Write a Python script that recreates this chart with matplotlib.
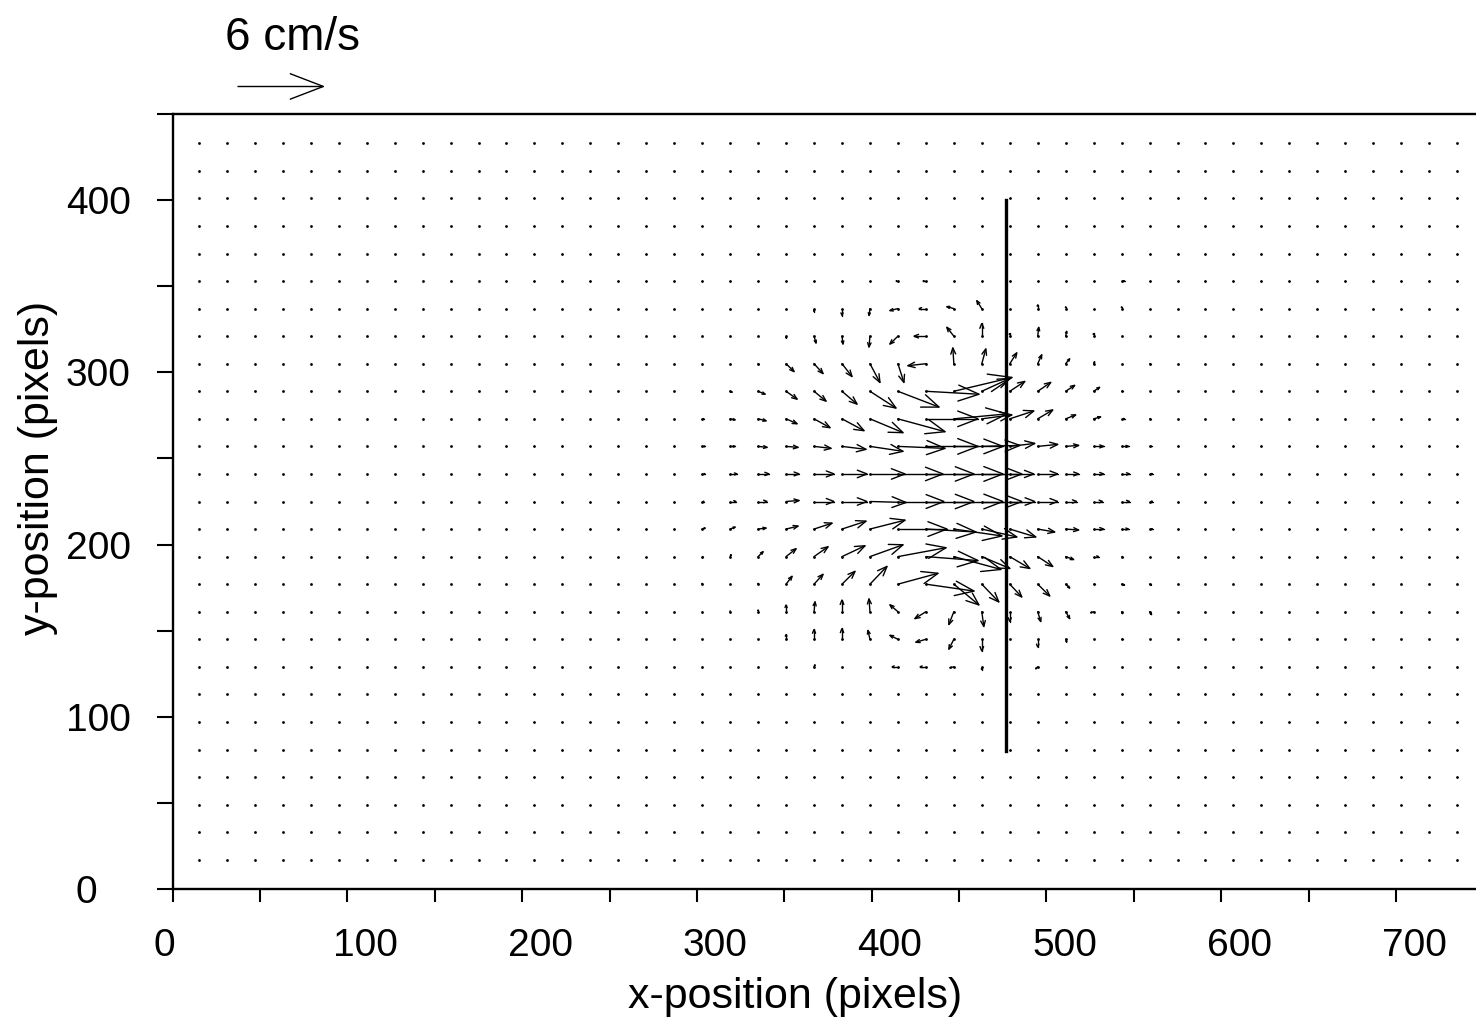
import numpy as np
import matplotlib
matplotlib.use("Agg")
import matplotlib.pyplot as plt
from matplotlib.collections import LineCollection
from matplotlib.transforms import ScaledTranslation

plt.rcParams['font.family'] = ['Liberation Sans', 'DejaVu Sans']

# ---------------- data ----------------
# PIV grid positions (pixels)
x_grid = np.arange(15, 736, 16)      # 46 columns
y_grid = np.arange(17, 434, 16)      # 27 rows

# velocity (cm/s) in the active block: rows j=7..21, columns k=18..34
ROW0, COL0 = 7, 18
u_block = [
    [0, 0, 0, 0, 0.07, 0, 0, -0.42, -0.42, -0.28, 0, 0, -0.14, 0, 0, 0, 0],
    [0, 0, 0, 0, 0, 0, -0.14, -0.56, -0.70, -0.35, 0, 0, 0, 0.07, 0, 0.07, 0],
    [0, 0, 0, 0, 0.07, 0, -0.07, -0.56, -0.77, -0.35, 0.14, 0, 0.21, 0.28, -0.21, 0.07, 0.14],
    [0, 0, 0, 0.42, 0.63, 0.91, 1.19, 2.80, 3.36, 1.75, 1.19, 0.84, 0.84, 0.28, 0.07, 0.21, 0.14],
    [0.07, 0.07, 0.35, 0.70, 0.98, 1.61, 2.31, 3.36, 3.64, 3.29, 1.96, 1.40, 1.05, 0.56, 0.35, 0.07, 0],
    [0.21, 0.35, 0.56, 0.84, 1.26, 1.68, 2.45, 3.43, 3.50, 3.36, 2.45, 1.82, 1.19, 0.91, 0.70, 0.49, 0.21],
    [0.14, 0.42, 0.63, 0.91, 1.40, 1.75, 2.52, 3.22, 3.36, 3.43, 2.80, 1.75, 1.40, 0.77, 0.63, 0.56, 0.21],
    [0.21, 0.49, 0.77, 0.91, 1.40, 1.75, 2.45, 3.15, 3.36, 3.43, 2.80, 1.68, 1.40, 0.91, 0.70, 0.56, 0.21],
    [0.21, 0.35, 0.63, 0.84, 1.19, 1.68, 2.31, 3.29, 3.64, 3.43, 2.66, 1.75, 1.40, 0.91, 0.70, 0.49, 0.14],
    [0.14, 0.35, 0.56, 0.77, 1.12, 1.54, 2.31, 3.29, 3.64, 3.71, 2.10, 1.68, 1.05, 0.70, 0.49, 0.21, 0.07],
    [0.07, 0.14, 0.49, 0.77, 0.84, 1.05, 1.82, 2.87, 3.71, 4.06, 1.96, 1.05, 0.91, 0.63, 0.42, 0.07, 0],
    [0, 0, 0.07, 0.56, 0.63, 0.70, 0.70, 0.42, -1.26, -0.07, 0.28, 0.49, 0.28, 0.28, 0.07, 0, 0.07],
    [0, 0, 0, 0, 0.14, 0.07, -0.07, -0.56, -0.84, -0.49, 0, 0, 0.07, 0.07, 0, 0, 0],
    [0, 0, 0, 0, 0, 0, -0.07, -0.56, -0.49, -0.49, -0.35, 0, 0, 0, 0, 0, 0],
    [0, 0, 0, 0, 0, 0, 0, -0.14, -0.21, 0, 0, 0, 0, 0, 0, 0.21, 0],
]
v_block = [
    [0, 0, 0, 0, 0.14, 0, 0, 0, 0, -0.07, -0.21, 0, -0.14, 0, 0, 0, 0],
    [0, 0, 0, 0.35, 0.70, 0.77, 0.63, 0.28, -0.21, -0.70, -0.84, 0, -0.56, -0.21, 0, 0, 0],
    [0, 0.07, 0.14, 0.49, 0.70, 0.84, 0.91, 0.49, -0.49, -0.91, -1.05, -0.70, -0.70, -0.49, -0.07, -0.14, -0.21],
    [0.07, 0, 0.07, 0.56, 0.70, 0.91, 1.26, 0.77, -0.49, -1.47, -1.26, -0.91, -0.84, -0.28, 0, -0.07, -0.07],
    [0, 0.14, 0.35, 0.56, 0.70, 0.77, 0.84, 0.63, -0.28, -0.91, -0.84, -0.84, -0.70, -0.21, 0, 0, 0],
    [0.07, 0.14, 0.07, 0.21, 0.42, 0.56, 0.63, 0, -0.21, -0.49, -0.56, -0.56, -0.21, -0.07, 0, 0, 0],
    [0, 0, 0, 0.07, 0, 0, -0.07, 0, 0, 0, 0, 0, 0, 0, 0, 0, 0],
    [0, 0, 0, 0, 0, 0, 0, 0, 0, 0, 0, 0, 0, 0, 0, 0, 0],
    [0, 0, -0.07, -0.07, -0.14, -0.21, -0.35, -0.14, 0, 0, 0.07, 0.21, 0.14, 0.07, 0, 0, 0],
    [0, -0.07, -0.14, -0.35, -0.63, -0.84, -0.98, -0.91, 0, 0.35, 0.28, 0.56, 0.63, 0.28, 0.14, 0, 0],
    [0, -0.07, -0.21, -0.56, -0.70, -0.91, -1.19, -1.12, -0.21, 0.98, 0.91, 0.70, 0.63, 0.42, 0.28, 0, 0],
    [0, 0, -0.07, -0.56, -0.70, -0.91, -1.33, -1.33, -0.14, 1.12, 1.05, 0.77, 0.63, 0.35, 0.14, 0, 0],
    [0, 0, 0, -0.14, -0.49, -0.56, -0.77, -0.56, 0, 0.63, 0.91, 0.21, 0.63, 0.35, 0.21, 0, 0],
    [0, 0, 0, 0, -0.21, -0.49, -0.49, -0.14, 0, 0.14, 0.56, 0, 0.28, 0.14, 0, 0.14, 0],
    [0, 0, 0, 0, 0, 0, 0, 0, 0, 0, 0, 0, 0, 0, 0, 0, 0],
]

# wall (plate) position
wall_x = 477
wall_y = [80, 400]

# reference vector
ref_speed = 6.0            # cm/s
ref_label = "6 cm/s"

x_ticks = [0, 100, 200, 300, 400, 500, 600, 700]
y_ticks = [0, 100, 200, 300, 400]

# ---------------- assemble field ----------------
U = np.zeros((len(y_grid), len(x_grid)))
V = np.zeros_like(U)
ub = np.array(u_block)
vb = np.array(v_block)
U[ROW0:ROW0 + ub.shape[0], COL0:COL0 + ub.shape[1]] = ub
V[ROW0:ROW0 + vb.shape[0], COL0:COL0 + vb.shape[1]] = vb
XX, YY = np.meshgrid(x_grid, y_grid)

SCALE = 49.2 / ref_speed   # data units per cm/s
ALPHA, BETA = 0.39, 0.39   # arrow head proportions (open barbs)


def arrow_paths(x, y, u, v):
    segs = []
    for xi, yi, ui, vi in zip(np.ravel(x), np.ravel(y), np.ravel(u), np.ravel(v)):
        if ui == 0 and vi == 0:
            continue
        Uu, Vv = ui * SCALE, vi * SCALE
        hx, hy = xi + Uu, yi + Vv
        segs.append([(xi, yi), (hx, hy)])
        b1 = (hx - ALPHA * (Uu + BETA * Vv), hy - ALPHA * (Vv - BETA * Uu))
        b2 = (hx - ALPHA * (Uu - BETA * Vv), hy - ALPHA * (Vv + BETA * Uu))
        segs.append([b1, (hx, hy), b2])
    return segs


# ---------------- figure ----------------
W, H = 1476, 1019
fig = plt.figure(figsize=(W / 100, H / 100), dpi=100)
ax_l, ax_r, ax_t, ax_b = 172.7, 1476, 114, 889
ax = fig.add_axes([ax_l / W, 1 - ax_b / H, (ax_r - ax_l) / W, (ax_b - ax_t) / H])
ax.set_xlim(0, 745.8)
ax.set_ylim(0, 450)

# grid dots
ax.scatter(XX.ravel(), YY.ravel(), s=4.0, color='black', linewidths=0, zorder=2)

# vectors
lc = LineCollection(arrow_paths(XX, YY, U, V), colors='black', linewidths=1.0,
                    capstyle='round', joinstyle='miter', zorder=3)
ax.add_collection(lc)

# wall
ax.plot([wall_x, wall_x], wall_y, color='black', lw=2.4, zorder=4)

# reference arrow and label (above the axes)
ref = LineCollection(arrow_paths(np.array([37.0]), np.array([466.0]),
                                 np.array([ref_speed]), np.array([0.0])),
                     colors='black', linewidths=1.0, zorder=5)
ref.set_clip_on(False)
ax.add_collection(ref)
ax.text(30, 487, ref_label, fontsize=33, ha='left', va='baseline', clip_on=False)

# spines
for s in ['left', 'bottom', 'top']:
    ax.spines[s].set_linewidth(1.7)
ax.spines['right'].set_visible(False)

# ticks
ax.set_xticks(x_ticks)
ax.set_xticks([50, 150, 250, 350, 450, 550, 650], minor=True)
ax.set_yticks(y_ticks)
ax.set_yticks([50, 150, 250, 350, 450], minor=True)
ax.tick_params(axis='x', which='both', direction='out', length=9.5, width=1.5,
               labelsize=28, pad=18.5, top=False)
ax.tick_params(axis='y', which='both', direction='out', length=11.5, width=1.5,
               labelsize=28, pad=42, right=False)
for i, lab in enumerate(ax.get_yticklabels()):
    lab.set_horizontalalignment('center')
    if i == 0:
        lab.set_transform(lab.get_transform() + ScaledTranslation(-0.12, 0, fig.dpi_scale_trans))
for i, lab in enumerate(ax.get_xticklabels()):
    dx = -8 if i == 0 else 18
    lab.set_transform(lab.get_transform() + ScaledTranslation(dx / 100, 0, fig.dpi_scale_trans))

ax.set_xlabel("x-position (pixels)", fontsize=31)
ax.set_ylabel("y-position (pixels)", fontsize=31)
ax.xaxis.set_label_coords(0.4775, -0.113)
ax.yaxis.set_label_coords(-0.088, 0.543)

fig.savefig("out.png", dpi=100)
